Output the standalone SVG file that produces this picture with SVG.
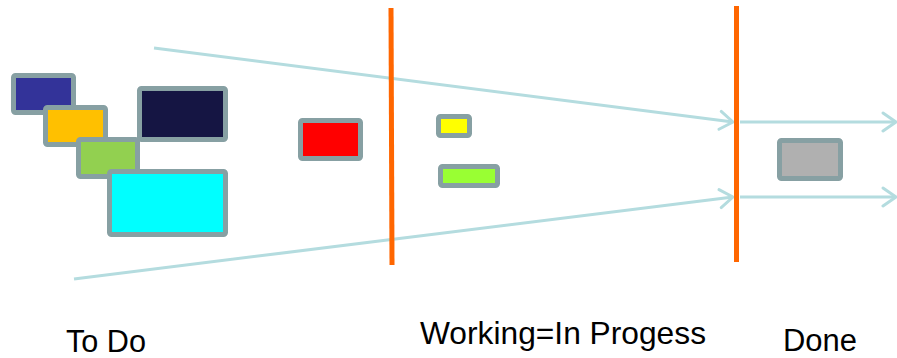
<svg xmlns="http://www.w3.org/2000/svg" width="897" height="358" viewBox="0 0 897 358">
<style>
.card{stroke:#87A0A3;stroke-width:5;}
.flow{stroke:#B4DCDF;stroke-width:3;fill:none;}
.bar{stroke:#FF6600;stroke-width:5;}
.lbl{font-family:"Liberation Sans",Arial,sans-serif;font-size:31px;fill:#000;}
</style>
<defs>
<marker id="ah" markerUnits="userSpaceOnUse" viewBox="-16 -12 20 24" refX="0" refY="0" markerWidth="20" markerHeight="24" orient="auto">
<path d="M-13,-9 L0,0 L-13,9" fill="none" stroke="#B4DCDF" stroke-width="3" stroke-linecap="round" stroke-linejoin="round"/>
</marker>
</defs>
<rect width="897" height="358" fill="#fff"/>
<g id="connectors">
<line class="flow" x1="154" y1="48" x2="733" y2="122" marker-end="url(#ah)"/>
<line class="flow" x1="74" y1="279" x2="733" y2="197" marker-end="url(#ah)"/>
<line class="flow" x1="740" y1="122" x2="896" y2="122" marker-end="url(#ah)"/>
<line class="flow" x1="740" y1="197" x2="896" y2="197" marker-end="url(#ah)"/>
</g>
<g id="dividers">
<line class="bar" x1="391" y1="8" x2="392" y2="265"/>
<line class="bar" x1="736.5" y1="6" x2="736.5" y2="262"/>
</g>
<g id="todo-blue"><rect class="card" x="13.5" y="75.5" width="60" height="37" rx="2" fill="#333399"/></g>
<g id="todo-orange"><rect class="card" x="45.5" y="107.5" width="60" height="37" rx="2" fill="#FFC000"/></g>
<g id="todo-green"><rect class="card" x="78.5" y="139.5" width="59" height="37" rx="2" fill="#92D050"/></g>
<g id="todo-navy"><rect class="card" x="139.5" y="88.5" width="86" height="51" rx="2" fill="#151543"/></g>
<g id="todo-cyan"><rect class="card" x="109.5" y="171.5" width="116" height="63" rx="2" fill="#00FFFF"/></g>
<g id="todo-red"><rect class="card" x="300.5" y="120.5" width="60" height="38" rx="2" fill="#FF0000"/></g>
<g id="wip-yellow"><rect class="card" x="438.5" y="116.5" width="31" height="19" rx="2" fill="#FFFF00"/></g>
<g id="wip-lime"><rect class="card" x="440.5" y="166.5" width="57" height="19" rx="2" fill="#99FF33"/></g>
<g id="done-grey"><rect class="card" x="779.5" y="140.5" width="61" height="38" rx="2" fill="#B0B0B0"/></g>
<g id="labels">
<text class="lbl" x="66" y="352" textLength="80" lengthAdjust="spacingAndGlyphs">To Do</text>
<text class="lbl" x="420" y="344" style="font-size:32px" textLength="286" lengthAdjust="spacingAndGlyphs">Working=In Progess</text>
<text class="lbl" x="783" y="351" textLength="74" lengthAdjust="spacingAndGlyphs">Done</text>
</g>
</svg>
